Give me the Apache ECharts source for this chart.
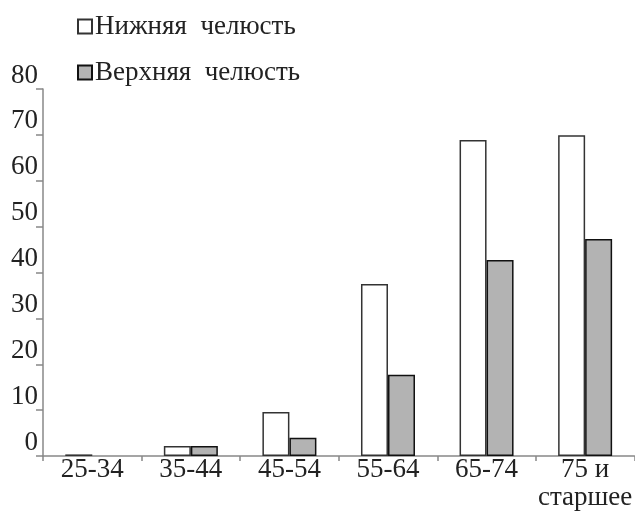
<!DOCTYPE html>
<html>
<head>
<meta charset="utf-8">
<script src="https://cdn.jsdelivr.net/npm/echarts@6/dist/echarts.min.js"></script>
<style>
html,body{margin:0;padding:0;background:#fff;}
#c{width:635px;height:512px;}
</style>
</head>
<body>
<div id="c"></div>
<script>
var categories = ['25-34', '35-44', '45-54', '55-64', '65-74', '75 и\nстаршее'];
var lowerJaw = [0.35, 2.2, 9.6, 37.5, 68.9, 69.9];
var upperJaw = [null, 2.2, 4.0, 17.7, 42.7, 47.3];
var seriesNames = ['Нижняя  челюсть', 'Верхняя  челюсть'];
var yTicks = [0, 10, 20, 30, 40, 50, 60, 70, 80];

var FONT = 'Liberation Serif';
var chart = echarts.init(document.getElementById('c'), null, {renderer: 'canvas'});
chart.setOption({
  animation: false,
  backgroundColor: '#fff',
  textStyle: {fontFamily: FONT},
  legend: {
    orient: 'vertical',
    left: 72,
    top: 8,
    itemWidth: 14,
    itemHeight: 14,
    itemGap: 19,
    icon: 'rect',
    textStyle: {fontFamily: FONT, fontSize: 27, color: '#222', padding: [0, 0, 0, -2]},
    data: seriesNames
  },
  grid: {left: 43, top: 89, width: 595, bottom: 54.5, containLabel: false},
  xAxis: {
    type: 'category',
    data: categories,
    axisLine: {lineStyle: {color: '#888', width: 1.5}},
    axisTick: {show: true, length: 5, alignWithLabel: false, lineStyle: {color: '#888', width: 1.5}},
    axisLabel: {fontFamily: FONT, fontSize: 27, color: '#222', margin: 0, lineHeight: 28, interval: 0}
  },
  yAxis: {
    type: 'value',
    min: 0,
    max: 80,
    interval: 10,
    axisLine: {show: true, lineStyle: {color: '#888', width: 1.5}},
    axisTick: {show: true, length: 7, lineStyle: {color: '#888', width: 1.5}},
    splitLine: {show: false},
    axisLabel: {
      fontFamily: FONT, fontSize: 27, color: '#222', margin: 5,
      verticalAlign: 'bottom',
      formatter: function (v) { return yTicks.indexOf(v) >= 0 ? String(v) : ''; }
    }
  },
  series: [
    {
      name: seriesNames[0], type: 'bar', data: lowerJaw,
      barWidth: 27, barGap: '0%',
      itemStyle: {color: '#ffffff', borderColor: '#333', borderWidth: 1.5}
    },
    {
      name: seriesNames[1], type: 'bar', data: upperJaw,
      barWidth: 27, barGap: '0%',
      itemStyle: {color: '#b3b3b3', borderColor: '#111', borderWidth: 1.5}
    }
  ]
});
</script>
</body>
</html>
